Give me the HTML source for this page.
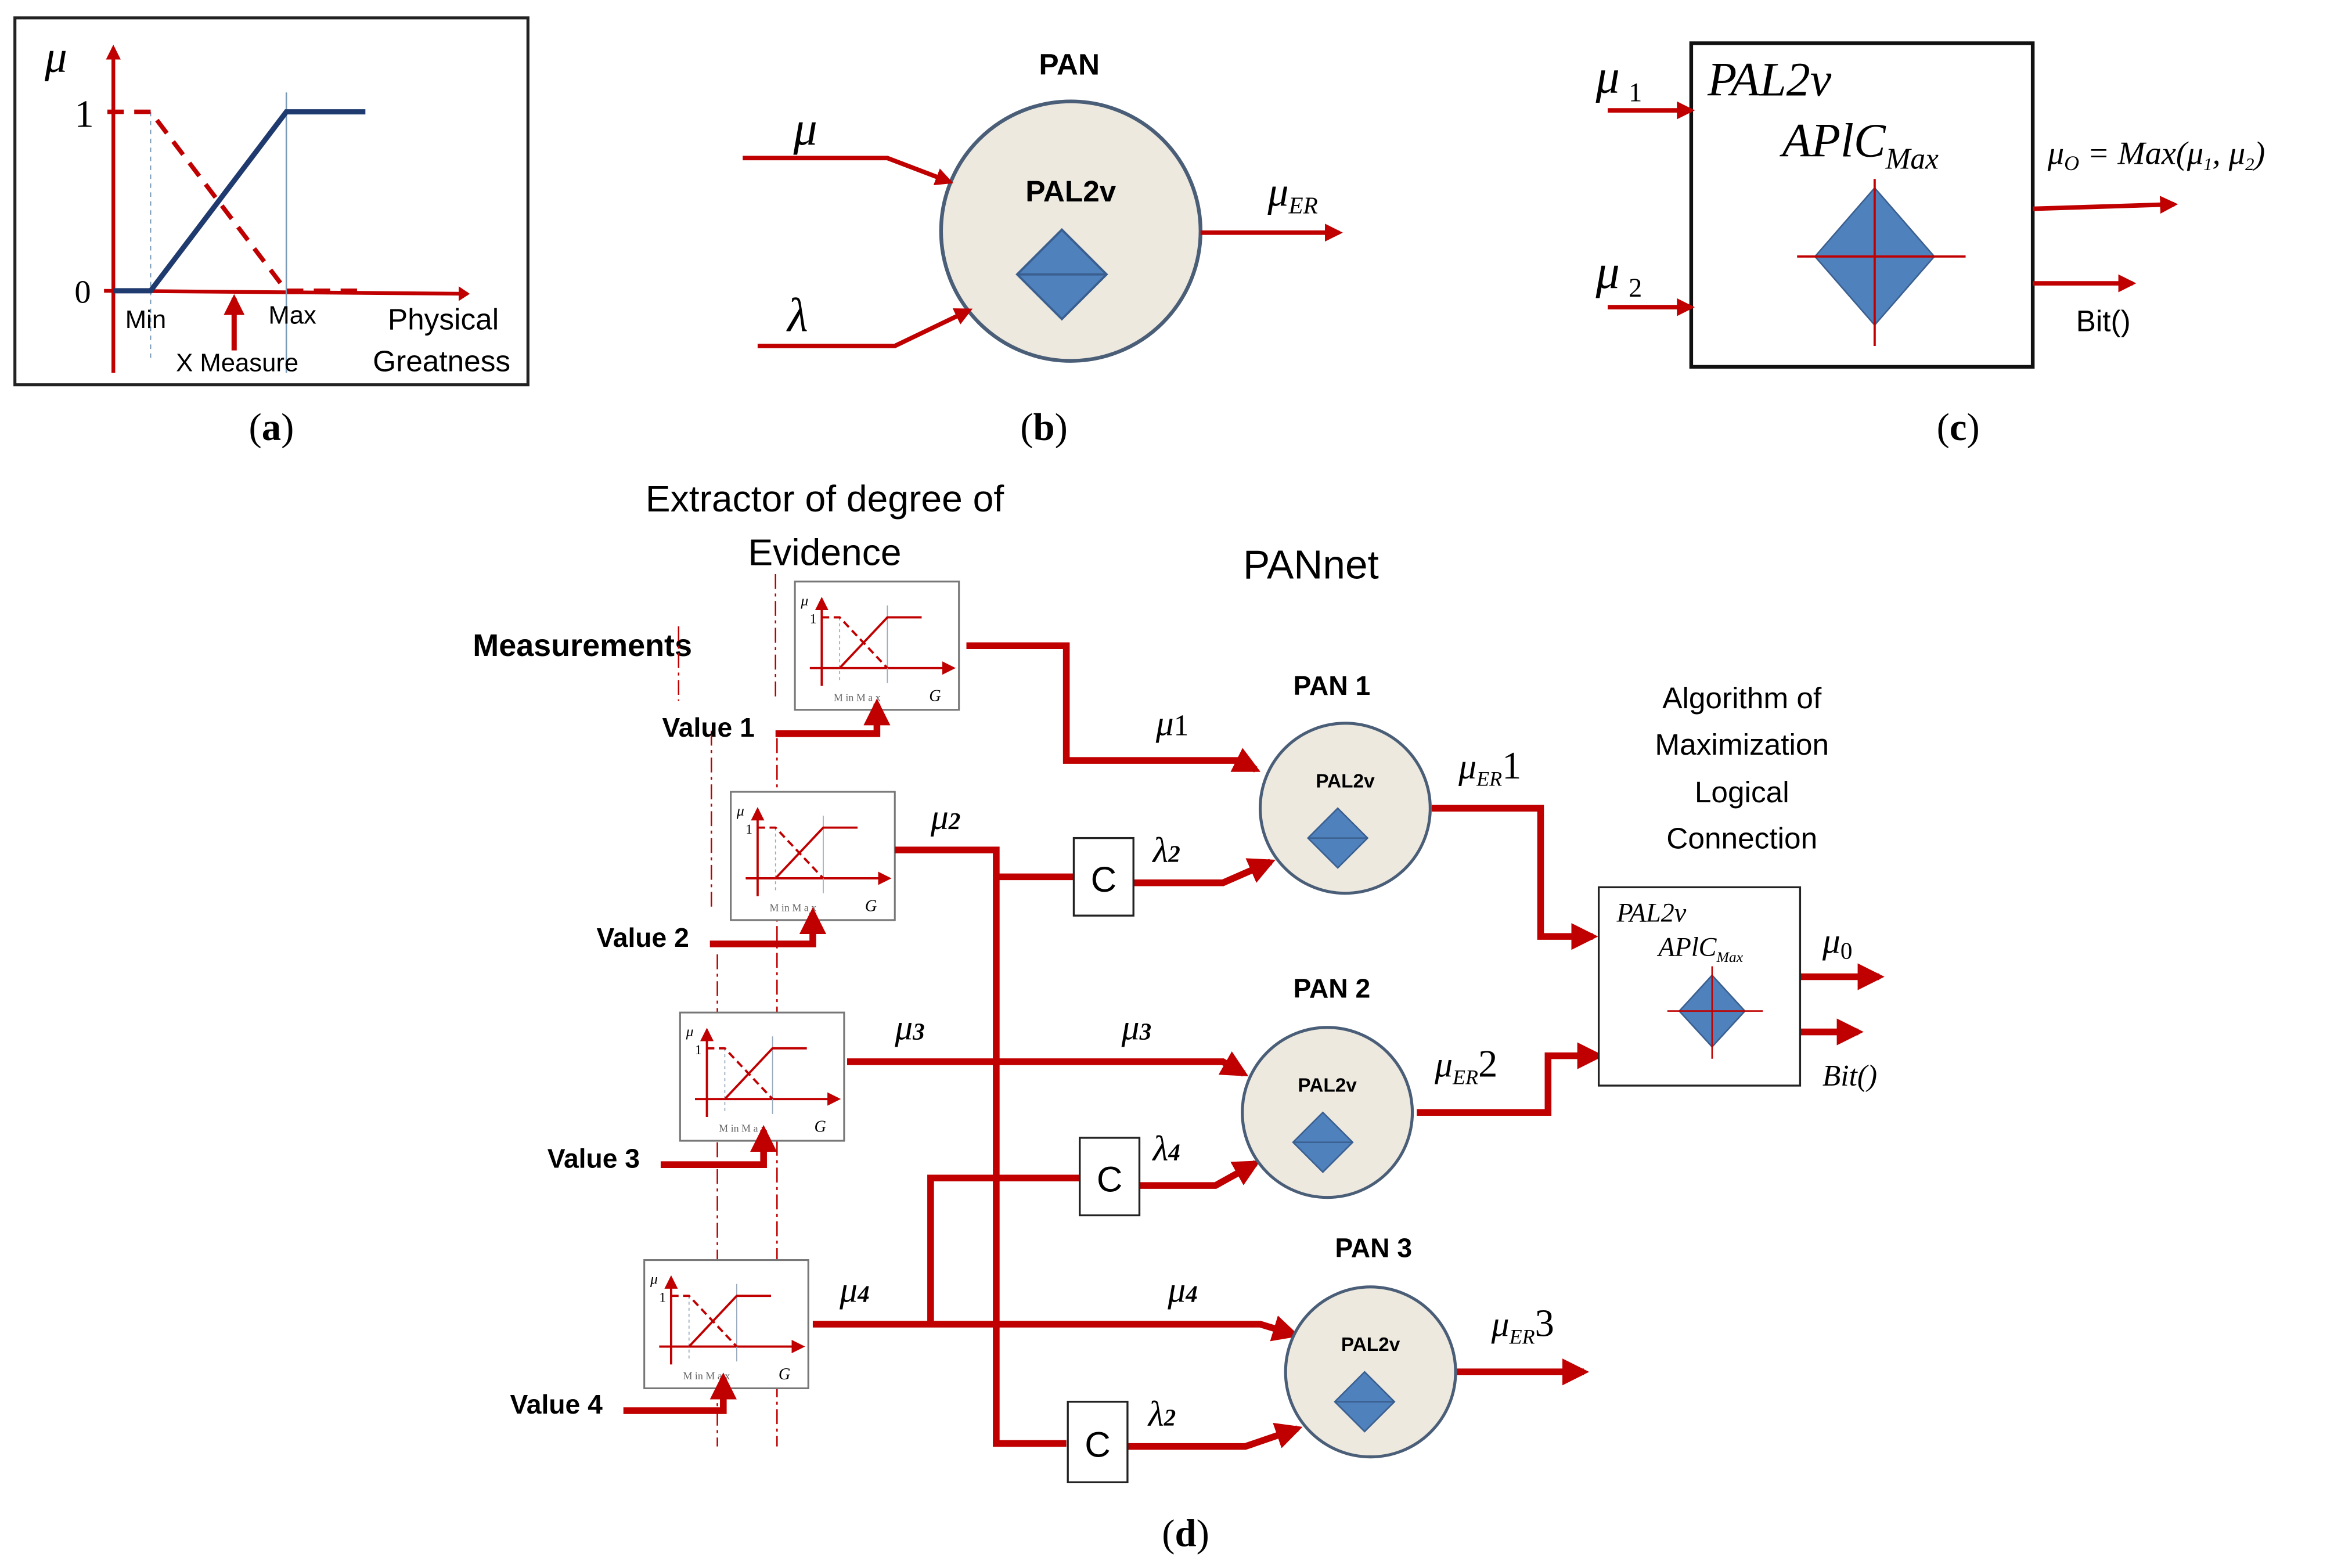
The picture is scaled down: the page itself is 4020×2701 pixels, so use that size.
<!DOCTYPE html>
<html><head><meta charset="utf-8"><style>html,body{margin:0;padding:0;background:#fff}svg{display:block}</style></head>
<body>
<svg width="4020" height="2701" viewBox="0 0 1565 1051.5" preserveAspectRatio="none" xmlns="http://www.w3.org/2000/svg" font-family="Liberation Sans, sans-serif">
<defs>
<marker id="ah" viewBox="0 0 10 10" refX="8" refY="5" markerWidth="4" markerHeight="4" orient="auto"><path d="M0,0L10,5L0,10z" fill="#c00000"/></marker>
<marker id="ahs" viewBox="0 0 10 10" refX="8" refY="5" markerWidth="6" markerHeight="6" orient="auto"><path d="M0,0L10,5L0,10z" fill="#c00000"/></marker>
<g id="mini">
<rect x="0" y="0" width="110" height="86" fill="#fff" stroke="#777" stroke-width="1.2"/>
<line x1="18" y1="70" x2="18" y2="12" stroke="#c00000" stroke-width="1.5" marker-end="url(#ahs)"/>
<line x1="10" y1="58" x2="106" y2="58" stroke="#c00000" stroke-width="1.5" marker-end="url(#ahs)"/>
<line x1="30" y1="24" x2="30" y2="68" stroke="#9ab" stroke-width="0.7" stroke-dasharray="2,2"/>
<line x1="62" y1="16" x2="62" y2="68" stroke="#9ab" stroke-width="0.7"/>
<path d="M18,24H30L62,58" fill="none" stroke="#c00000" stroke-width="1.5" stroke-dasharray="5,3"/>
<path d="M30,58L62,24H85" fill="none" stroke="#c00000" stroke-width="1.5"/>
<text x="4" y="16" font-family="Liberation Serif, serif" font-style="italic" font-size="10">μ</text>
<text x="10" y="28" font-family="Liberation Serif, serif" font-size="9">1</text>
<text x="26" y="80" font-family="Liberation Serif, serif" font-size="7" fill="#666">M in    M a x</text>
<text x="90" y="80" font-family="Liberation Serif, serif" font-style="italic" font-size="11">G</text>
</g>
<g id="dia"><path d="M0,-20L20,0L0,20L-20,0z" fill="#4f81bd" stroke="#3a5f8f"/><line x1="-20" y1="0" x2="20" y2="0" stroke="#3a5f8f"/></g>
</defs>

<!-- (a) -->
<rect x="10" y="12" width="344" height="246" fill="#fff" stroke="#222" stroke-width="2"/>
<text x="30" y="48" font-family="Liberation Serif, serif" font-style="italic" font-size="30">μ</text>
<line x1="76" y1="250" x2="76" y2="32" stroke="#c00000" stroke-width="2.5" marker-end="url(#ah)"/>
<line x1="70" y1="195" x2="395" y2="197" stroke="#c00000" stroke-width="2.5" marker-end="url(#ah)" transform="scale(0.75,1) translate(23,0)"/>
<text x="50" y="85" font-family="Liberation Serif, serif" font-size="26">1</text>
<text x="50" y="203" font-family="Liberation Serif, serif" font-size="22">0</text>
<line x1="101" y1="75" x2="101" y2="240" stroke="#7a9ab8" stroke-width="0.8" stroke-dasharray="3,3"/>
<line x1="192" y1="62" x2="192" y2="250" stroke="#7a9ab8" stroke-width="1"/>
<path d="M72,75H101L192,195H245" fill="none" stroke="#c00000" stroke-width="3" stroke-dasharray="11,7"/>
<path d="M76,195H101L192,75H245" fill="none" stroke="#1f3a6e" stroke-width="3.5"/>
<line x1="157" y1="235" x2="157" y2="200" stroke="#c00000" stroke-width="3.5" marker-end="url(#ah)"/>
<text x="84" y="220" font-size="17">Min</text>
<text x="180" y="217" font-size="17">Max</text>
<text x="260" y="221" font-size="20">Physical</text>
<text x="250" y="249" font-size="20">Greatness</text>
<text x="118" y="249" font-size="17">X Measure</text>
<text x="182" y="295" text-anchor="middle" font-family="Liberation Serif, serif" font-size="26">(<tspan font-weight="bold">a</tspan>)</text>

<!-- (b) -->
<text x="717" y="50" text-anchor="middle" font-weight="bold" font-size="20">PAN</text>
<circle cx="718" cy="155" r="87" fill="#ede9df" stroke="#4a5e78" stroke-width="2.5"/>
<text x="718" y="135" text-anchor="middle" font-weight="bold" font-size="20">PAL2v</text>
<g transform="translate(712,184) scale(1.5)"><use href="#dia"/></g>
<path d="M498,106H595L637,122" fill="none" stroke="#c00000" stroke-width="3" marker-end="url(#ah)"/>
<path d="M508,232H600L650,208" fill="none" stroke="#c00000" stroke-width="3" marker-end="url(#ah)"/>
<line x1="805" y1="156" x2="898" y2="156" stroke="#c00000" stroke-width="3" marker-end="url(#ah)"/>
<text x="532" y="97" font-family="Liberation Serif, serif" font-style="italic" font-size="32">μ</text>
<text x="528" y="222" font-family="Liberation Serif, serif" font-style="italic" font-size="32">λ</text>
<text x="850" y="138" font-family="Liberation Serif, serif" font-style="italic" font-size="28">μ<tspan font-size="16" dy="5">ER</tspan></text>
<text x="700" y="295" text-anchor="middle" font-family="Liberation Serif, serif" font-size="26">(<tspan font-weight="bold">b</tspan>)</text>

<!-- (c) -->
<rect x="1134" y="29" width="229" height="217" fill="#fff" stroke="#111" stroke-width="2.5"/>
<text x="1145" y="64" font-family="Liberation Serif, serif" font-style="italic" font-size="32">PAL2v</text>
<text x="1195" y="105" font-family="Liberation Serif, serif" font-style="italic" font-size="32">APlC<tspan font-size="20" dy="8">Max</tspan></text>
<path d="M1257,126L1297,172L1257,218L1217,172z" fill="#4f81bd" stroke="#3a5f8f"/>
<line x1="1205" y1="172" x2="1318" y2="172" stroke="#c00000" stroke-width="1.5"/>
<line x1="1257" y1="120" x2="1257" y2="232" stroke="#c00000" stroke-width="1.5"/>
<line x1="1078" y1="74" x2="1134" y2="74" stroke="#c00000" stroke-width="3" marker-end="url(#ah)"/>
<line x1="1078" y1="206" x2="1134" y2="206" stroke="#c00000" stroke-width="3" marker-end="url(#ah)"/>
<line x1="1363" y1="140" x2="1458" y2="137" stroke="#c00000" stroke-width="3" marker-end="url(#ah)"/>
<line x1="1363" y1="190" x2="1430" y2="190" stroke="#c00000" stroke-width="3" marker-end="url(#ah)"/>
<text x="1070" y="62" font-family="Liberation Serif, serif" font-style="italic" font-size="32">μ<tspan font-size="18" dx="6" dy="6" font-style="normal">1</tspan></text>
<text x="1070" y="193" font-family="Liberation Serif, serif" font-style="italic" font-size="32">μ<tspan font-size="18" dx="6" dy="6" font-style="normal">2</tspan></text>
<text x="1373" y="110" font-family="Liberation Serif, serif" font-style="italic" font-size="22">μ<tspan font-size="14" dy="4">O</tspan><tspan dy="-4"> = Max(μ</tspan><tspan font-size="12" dy="4">1</tspan><tspan dy="-4">, μ</tspan><tspan font-size="12" dy="4">2</tspan><tspan dy="-4">)</tspan></text>
<text x="1392" y="222" font-size="20">Bit()</text>
<text x="1313" y="295" text-anchor="middle" font-family="Liberation Serif, serif" font-size="26">(<tspan font-weight="bold">c</tspan>)</text>

<!-- (d) -->
<text x="553" y="343" text-anchor="middle" font-size="25">Extractor of degree of</text>
<text x="553" y="379" text-anchor="middle" font-size="25">Evidence</text>
<text x="879" y="388" text-anchor="middle" font-size="27">PANnet</text>
<text x="317" y="440" font-weight="bold" font-size="21">Measurements</text>

<g stroke="#c00000" stroke-width="1" stroke-dasharray="10,3,2,3" fill="none">
<line x1="455" y1="420" x2="455" y2="470"/>
<line x1="477" y1="490" x2="477" y2="610"/>
<line x1="481" y1="640" x2="481" y2="970"/>
<line x1="520" y1="385" x2="520" y2="470"/>
<line x1="521" y1="495" x2="521" y2="970"/>
</g>

<use href="#mini" x="533" y="390"/>
<use href="#mini" x="490" y="531"/>
<use href="#mini" x="456" y="679"/>
<use href="#mini" x="432" y="845"/>

<g fill="none" stroke="#c00000" stroke-width="4.5">
<path d="M520,492H588V472" marker-end="url(#ah)"/>
<path d="M476,633H545V612" marker-end="url(#ah)"/>
<path d="M443,781H512V758" marker-end="url(#ah)"/>
<path d="M418,946H485V924" marker-end="url(#ah)"/>
<path d="M648,433H715V510H830L842,516" marker-end="url(#ah)"/>
<path d="M600,570H668V968H715"/>
<path d="M668,588H720"/>
<path d="M760,592H820L852,578" marker-end="url(#ah)"/>
<path d="M568,712H820L834,720" marker-end="url(#ah)"/>
<path d="M624,888V790H724"/>
<path d="M764,795H815L842,780" marker-end="url(#ah)"/>
<path d="M545,888H845L868,895" marker-end="url(#ah)"/>
<path d="M756,970H835L870,958" marker-end="url(#ah)"/>
<path d="M960,542H1033V628H1068" marker-end="url(#ah)"/>
<path d="M950,746H1038V708H1072" marker-end="url(#ah)"/>
<path d="M977,920H1062" marker-end="url(#ah)"/>
<path d="M1207,655H1260" marker-end="url(#ah)"/>
<path d="M1207,692H1246" marker-end="url(#ah)"/>
</g>

<g fill="#fff" stroke="#222" stroke-width="1.3">
<rect x="720" y="562" width="40" height="52"/>
<rect x="724" y="763" width="40" height="52"/>
<rect x="716" y="940" width="40" height="54"/>
</g>
<text x="740" y="598" text-anchor="middle" font-size="24">C</text>
<text x="744" y="799" text-anchor="middle" font-size="24">C</text>
<text x="736" y="977" text-anchor="middle" font-size="24">C</text>

<g fill="#ede9df" stroke="#4a5e78" stroke-width="2">
<circle cx="902" cy="542" r="57"/>
<circle cx="890" cy="746" r="57"/>
<circle cx="919" cy="920" r="57"/>
</g>
<text x="902" y="528" text-anchor="middle" font-weight="bold" font-size="13">PAL2v</text>
<text x="890" y="732" text-anchor="middle" font-weight="bold" font-size="13">PAL2v</text>
<text x="919" y="906" text-anchor="middle" font-weight="bold" font-size="13">PAL2v</text>
<use href="#dia" x="897" y="562"/>
<use href="#dia" x="887" y="766"/>
<use href="#dia" x="915" y="940"/>
<text x="893" y="466" text-anchor="middle" font-weight="bold" font-size="18">PAN 1</text>
<text x="893" y="669" text-anchor="middle" font-weight="bold" font-size="18">PAN 2</text>
<text x="921" y="843" text-anchor="middle" font-weight="bold" font-size="18">PAN 3</text>

<text x="444" y="494" font-weight="bold" font-size="18">Value 1</text>
<text x="400" y="635" font-weight="bold" font-size="18">Value 2</text>
<text x="367" y="783" font-weight="bold" font-size="18">Value 3</text>
<text x="342" y="948" font-weight="bold" font-size="18">Value 4</text>

<g font-family="Liberation Serif, serif" font-style="italic" font-size="24">
<text x="775" y="493">μ<tspan font-style="normal" font-size="20">1</tspan></text>
<text x="624" y="556">μ<tspan font-weight="bold" font-size="16">2</tspan></text>
<text x="773" y="578">λ<tspan font-weight="bold" font-size="16">2</tspan></text>
<text x="600" y="697">μ<tspan font-weight="bold" font-size="16">3</tspan></text>
<text x="752" y="697">μ<tspan font-weight="bold" font-size="16">3</tspan></text>
<text x="773" y="778">λ<tspan font-weight="bold" font-size="16">4</tspan></text>
<text x="563" y="873">μ<tspan font-weight="bold" font-size="16">4</tspan></text>
<text x="783" y="873">μ<tspan font-weight="bold" font-size="16">4</tspan></text>
<text x="770" y="956">λ<tspan font-weight="bold" font-size="16">2</tspan></text>
<text x="978" y="522">μ<tspan font-size="14" dy="5">ER</tspan><tspan font-style="normal" dy="-5" font-size="26">1</tspan></text>
<text x="962" y="722">μ<tspan font-size="14" dy="5">ER</tspan><tspan font-style="normal" dy="-5" font-size="26">2</tspan></text>
<text x="1000" y="896">μ<tspan font-size="14" dy="5">ER</tspan><tspan font-style="normal" dy="-5" font-size="26">3</tspan></text>
<text x="1222" y="639">μ<tspan font-style="normal" font-size="16" dy="4">0</tspan></text>
<text x="1222" y="728" font-size="20">Bit()</text>
</g>

<g font-size="20" text-anchor="middle">
<text x="1168" y="475">Algorithm of</text>
<text x="1168" y="506">Maximization</text>
<text x="1168" y="538">Logical</text>
<text x="1168" y="569">Connection</text>
</g>

<rect x="1072" y="595" width="135" height="133" fill="#fff" stroke="#222" stroke-width="1.3"/>
<text x="1084" y="618" font-family="Liberation Serif, serif" font-style="italic" font-size="18">PAL2v</text>
<text x="1112" y="641" font-family="Liberation Serif, serif" font-style="italic" font-size="18">APlC<tspan font-size="10" dy="4">Max</tspan></text>
<path d="M1148,654L1170,678L1148,702L1126,678z" fill="#4f81bd" stroke="#3a5f8f"/>
<line x1="1118" y1="678" x2="1182" y2="678" stroke="#c00000" stroke-width="1"/>
<line x1="1148" y1="648" x2="1148" y2="710" stroke="#c00000" stroke-width="1"/>

<text x="795" y="1037" text-anchor="middle" font-family="Liberation Serif, serif" font-size="26">(<tspan font-weight="bold">d</tspan>)</text>
</svg>
</body></html>
